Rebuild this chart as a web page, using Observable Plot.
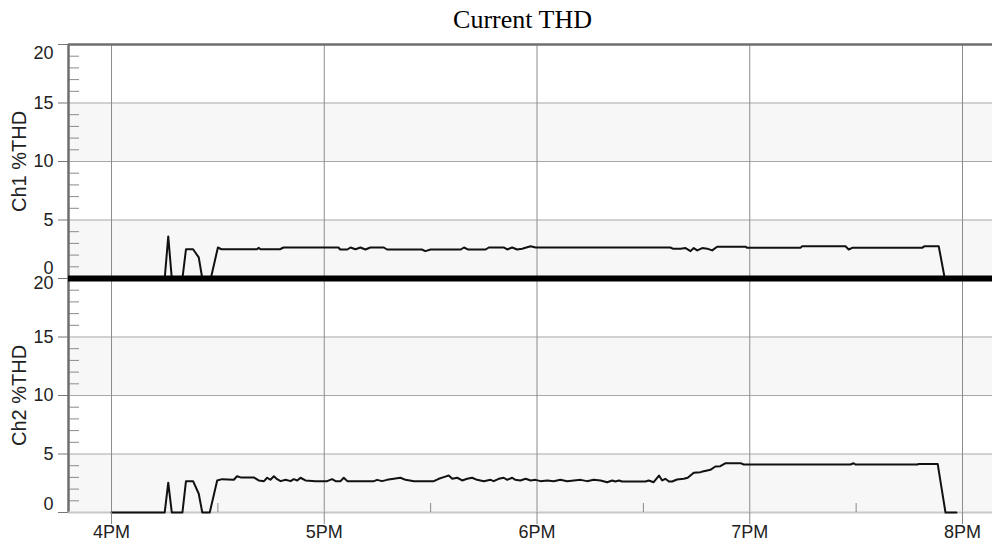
<!DOCTYPE html>
<html><head><meta charset="utf-8">
<script src="https://cdn.jsdelivr.net/npm/d3@7"></script>
<script src="https://cdn.jsdelivr.net/npm/@observablehq/plot@0.6"></script>
<style>
body{margin:0;background:#fff;overflow:hidden;}
#title{position:relative;height:34px;width:992px;}
#title span{position:absolute;left:522.5px;top:2.5px;transform:translateX(-50%);font-family:"Liberation Serif","Times New Roman",serif;font-size:26px;line-height:34px;white-space:nowrap;color:#000}
#chart svg{display:block;overflow:visible}
</style></head>
<body>
<div id="title"><span>Current THD</span></div>
<div id="chart"></div>
<script>
// ---- data (minutes after 4PM, %THD) ----
const channels = ["Ch1", "Ch2"];
const yLabels = ["Ch1 %THD", "Ch2 %THD"];
const hourTicks = [16, 17, 18, 19, 20];
const hourLabels = ["4PM", "5PM", "6PM", "7PM", "8PM"];
const halfHourTicks = [16.5, 17.5, 18.5, 19.5];
const yTicks = [0, 5, 10, 15, 20];
const yGrid = [5, 10, 15];
const yMinor = [1,2,3,4,6,7,8,9,11,12,13,14,16,17,18,19];
const bandStarts = [0, 10];
const xDomain = [15.7978, 20.141];

const ch1Minutes = [0,15,16,17,20,21,23,24.6,25.6,28,30,31,41,41.5,42,47.5,48.5,64,64.5,66.5,67.4,68.8,70.2,71.6,73,76.8,77.7,87.5,88.5,90,98.5,99.4,100.5,105.5,106.4,110.6,111.6,113,114.4,115.8,118.2,119.6,157.6,158.3,160.5,161.9,163.3,164.2,165.2,166.6,168,169.4,170.8,178.8,179.3,194.3,194.8,207,207.9,208.9,228.6,229.2,233.3,235,238.3];
const ch1Values = [0,0,3.6,0,0,2.5,2.5,1.8,0,0,2.65,2.5,2.5,2.62,2.5,2.5,2.65,2.65,2.48,2.48,2.65,2.5,2.65,2.48,2.65,2.65,2.48,2.48,2.34,2.48,2.48,2.65,2.48,2.48,2.65,2.65,2.48,2.65,2.48,2.55,2.75,2.65,2.65,2.55,2.55,2.6,2.34,2.6,2.4,2.6,2.55,2.4,2.72,2.72,2.62,2.62,2.75,2.75,2.48,2.62,2.62,2.75,2.75,0,0];

const ch2Minutes = [0,15,16,17,20,21,23,24.6,25.6,27.7,29.8,31.2,34.5,35.4,36.4,40.1,41.5,43,43.9,44.8,45.8,46.7,47.7,49.1,50.5,51.4,52.4,53.3,54.7,57.5,60.8,62.2,63.2,64.6,65.5,66.5,74,74.9,76.3,77.7,79.6,81.5,82.9,85.3,90.9,92.3,93.7,95.1,96.1,97.5,98.9,100.3,101.7,103.1,105,106.9,107.8,109.2,110.6,111.6,113,113.9,115.3,116.8,118.2,119.6,121,122.9,124.7,126.6,128.5,130.4,132.3,134.1,136,137.9,139.8,141.2,142.1,143.1,144,150.6,151.5,152.9,154.4,155.3,156.2,157.2,158.1,159.5,161.4,162.5,164.2,166.1,167,168,168.9,170.3,171.7,173.2,177.4,178.3,208.4,209.3,209.8,227.2,227.7,233,235.2,238.3];
const ch2Values = [0,0,2.55,0,0,2.68,2.68,1.6,0,0,2.74,2.85,2.8,3.1,3.0,3.0,2.74,2.68,2.97,2.8,3.1,2.85,2.68,2.8,2.68,2.85,2.74,2.97,2.74,2.68,2.68,2.85,2.68,2.68,2.97,2.68,2.68,2.79,2.68,2.79,2.88,2.97,2.79,2.68,2.68,2.88,3.02,3.16,2.88,2.97,2.74,2.88,2.97,2.79,2.68,2.79,2.68,2.88,2.97,2.79,2.97,2.79,2.74,2.88,2.74,2.79,2.68,2.74,2.68,2.79,2.68,2.74,2.79,2.68,2.79,2.74,2.59,2.74,2.65,2.74,2.65,2.65,2.74,2.59,3.16,2.74,2.88,2.65,2.65,2.82,2.88,2.97,3.39,3.45,3.53,3.59,3.65,3.93,3.96,4.22,4.22,4.1,4.1,4.21,4.1,4.1,4.15,4.15,0,0];

// ---- tables built from the arrays ----
const rows = [];
ch1Minutes.forEach((m, i) => rows.push({ch: channels[0], hour: 16 + m / 60, v: ch1Values[i]}));
ch2Minutes.forEach((m, i) => rows.push({ch: channels[1], hour: 16 + m / 60, v: ch2Values[i]}));
const bands = bandStarts.map(s => ({y1: s, y2: s + 5}));
const tickRows = channels.flatMap(ch => yTicks.map(v => ({ch, v})));
const midRows = tickRows.filter(d => d.v > 0 && d.v < 20);
const top1 = tickRows.filter(d => d.v === 20 && d.ch === "Ch1");
const top2 = tickRows.filter(d => d.v === 20 && d.ch === "Ch2");
const bot1 = tickRows.filter(d => d.v === 0 && d.ch === "Ch1");
const bot2 = tickRows.filter(d => d.v === 0 && d.ch === "Ch2");
const labelOpts = {fy: "ch", y: "v", text: d => String(d.v), frameAnchor: "left", textAnchor: "end", dx: -15, fontSize: 18, fill: "#222"};

const chart = Plot.plot({
  width: 992, height: 512,
  marginLeft: 68, marginRight: 0, marginTop: 9.5, marginBottom: 34,
  style: {fontFamily: "'Liberation Sans', Arial, sans-serif", fontSize: "18px", color: "#222", background: "transparent", overflow: "visible"},
  x: {domain: xDomain},
  y: {domain: [0, 20]},
  fy: {domain: channels, padding: 0, axis: null},
  marks: [
    Plot.rect(bands, {x1: xDomain[0], x2: xDomain[1], y1: "y1", y2: "y2", fill: "#f7f7f7"}),
    Plot.gridY({ticks: yGrid, stroke: "#a8a8a8", strokeOpacity: 1}),
    Plot.ruleX(hourTicks, {stroke: "#8c8c8c", strokeWidth: 1}),
    Plot.axisY({ticks: yMinor, tickSize: -11, fill: "none", stroke: "#8a8a8a", label: null}),
    Plot.axisY({ticks: yTicks, tickSize: 10, fill: "none", stroke: "#777", label: null}),
    Plot.ruleX([xDomain[0]], {stroke: "#6e6e6e", strokeWidth: 2.5}),
    Plot.ruleY(tickRows.filter(d => d.ch === "Ch1" && d.v === 20), {fy: "ch", y: "v", stroke: "#6e6e6e", strokeWidth: 2.5}),
    Plot.ruleY(tickRows.filter(d => d.ch === "Ch2" && d.v === 0), {fy: "ch", y: "v", stroke: "#c8c8c8", strokeWidth: 2}),
    Plot.line(rows, {fy: "ch", x: "hour", y: "v", stroke: "#111", strokeWidth: 2}),
    Plot.ruleY(tickRows.filter(d => d.ch === "Ch1" && d.v === 0), {fy: "ch", y: "v", stroke: "#000", strokeWidth: 6}),
    Plot.text(midRows, labelOpts),
    Plot.text(top1, {...labelOpts, dy: 9}),
    Plot.text(top2, {...labelOpts, dy: 5}),
    Plot.text(bot1, {...labelOpts, dy: -10}),
    Plot.text(bot2, {...labelOpts, dy: -8}),
    Plot.text(channels, {fy: d => d, text: (d, i) => yLabels[i], frameAnchor: "left", textAnchor: "middle", dx: -49, rotate: -90, fontSize: 20, fill: "#222"}),
    Plot.axisX({ticks: hourTicks, tickFormat: d => hourLabels[hourTicks.indexOf(d)], tickSize: 12, tickPadding: 1, stroke: "#888", fill: "#222", fontSize: 18, label: null}),
    Plot.axisX({ticks: halfHourTicks, tickSize: -9, fill: "none", stroke: "#888", label: null})
  ]
});
document.getElementById("chart").appendChild(chart);
</script>
</body></html>
